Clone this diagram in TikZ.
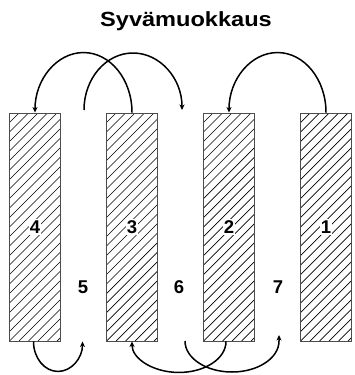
\documentclass[tikz,border=0pt]{standalone}
\usepackage{fontspec}
\setmainfont{Liberation Sans}
\usetikzlibrary{arrows.meta}
\begin{document}
\begin{tikzpicture}[x=1pt,y=-1pt,
  strip/.style={draw=black!70, line width=0.9pt, minimum width=51pt, minimum height=228pt, inner sep=0pt},
  num/.style={font=\fontsize{18.5}{20}\selectfont\bfseries, fill=white, inner sep=1.2pt},
  gaplabel/.style={font=\fontsize{18.5}{20}\selectfont\bfseries, inner sep=0pt},
  move/.style={line width=1.5pt, -{Stealth[length=5.5pt,width=5pt,inset=1.5pt]}},
  hatch/.style={line width=0.7pt}]
\useasboundingbox (0,0) rectangle (354,375);
\node[font=\fontsize{20.5}{24}\selectfont\bfseries, anchor=base] (title) at (186,26) {\scalebox{1.15}[1]{Syvämuokkaus}};
\foreach \n/\x in {4/35,3/132,2/229,1/326} {
  \begin{scope}
    \clip (\x-25.5,113) rectangle (\x+25.5,341);
    \foreach \k in {-27,...,7} \draw[hatch] (\x-25.5+\k*9.5,341) -- ++(260,-260);
  \end{scope}
  \node[strip] (r\n) at (\x,227) {};
  \node[num] (l\n) at (\x,227) {\n};
}
\node[gaplabel] (g5) at (83,287) {5};
\node[gaplabel] (g6) at (179,287) {6};
\node[gaplabel] (g7) at (278,287) {7};
% top moves
\draw[move] (r3.north) arc[start angle=0, end angle=-180, x radius=48.5, y radius=60];
\coordinate (b0) at (84,110);
\draw[move] (b0) arc[start angle=180, end angle=360, x radius=49, y radius=57];
\draw[move] (r1.north) arc[start angle=0, end angle=-180, x radius=48.5, y radius=60];
% bottom moves
\draw[move] ([xshift=-1.5pt]r4.south) arc[start angle=180, end angle=0, x radius=24.5, y radius=30];
\draw[move] ([xshift=-3pt]r2.south) arc[start angle=0, end angle=180, x radius=47, y radius=31];
\coordinate (f0) at (185,341);
\draw[move] (f0) arc[start angle=180, end angle=0, x radius=47, y radius=31] -- ++(0,-6);
\end{tikzpicture}
\end{document}
